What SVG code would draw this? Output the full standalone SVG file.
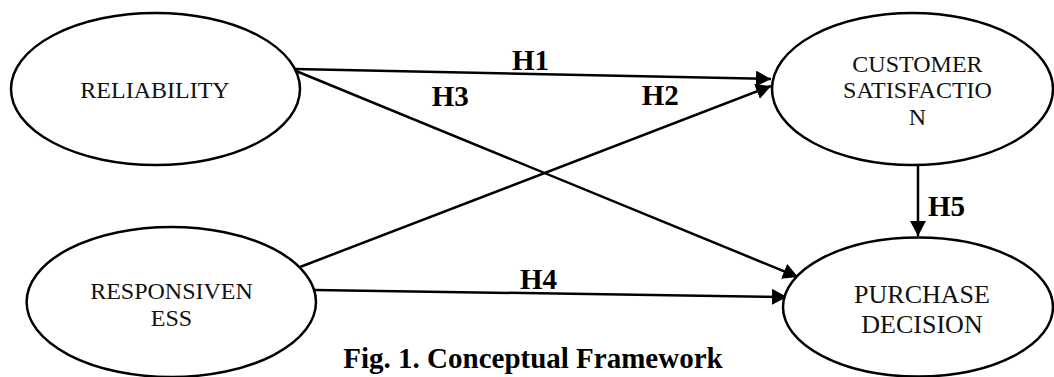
<svg xmlns="http://www.w3.org/2000/svg" width="1054" height="377" viewBox="0 0 1054 377">
<style>
.node{fill:#fff;stroke:#000;stroke-width:2.5}
.nt{font-family:"Liberation Serif","Times New Roman",serif;font-size:24px;fill:#111;text-anchor:middle}
.lbl{font-family:"Liberation Serif","Times New Roman",serif;font-size:29px;font-weight:bold;fill:#000}
.edge{stroke:#000;stroke-width:2.5;fill:none;marker-end:url(#ah)}
</style>
<defs>
<marker id="ah" markerUnits="userSpaceOnUse" markerWidth="16" markerHeight="16" refX="15" refY="8" orient="auto" viewBox="0 0 16 16">
<path d="M0,0 L15,8 L0,16 z" fill="#000"/>
</marker>
</defs>
<rect width="1054" height="377" fill="#fff"/>
<g id="connectors">
<line class="edge" x1="295" y1="69" x2="771" y2="79"/>
<line class="edge" x1="296" y1="71" x2="798" y2="277"/>
<line class="edge" x1="300" y1="267" x2="771" y2="86"/>
<line class="edge" x1="315" y1="290" x2="787" y2="297"/>
<line class="edge" x1="918" y1="165" x2="918" y2="236"/>
</g>
<g id="reliability">
<ellipse class="node" cx="155.5" cy="89" rx="144.5" ry="76"/>
<text class="nt" x="155" y="98">RELIABILITY</text>
</g>
<g id="customer-satisfaction">
<ellipse class="node" cx="912.5" cy="89" rx="140.5" ry="76"/>
<text class="nt" x="917.5" y="71.7">CUSTOMER</text>
<text class="nt" x="917.5" y="98.3">SATISFACTIO</text>
<text class="nt" x="917.5" y="125">N</text>
</g>
<g id="responsiveness">
<ellipse class="node" cx="171.3" cy="302" rx="144.7" ry="75"/>
<text class="nt" x="171.5" y="299">RESPONSIVEN</text>
<text class="nt" x="171.5" y="326">ESS</text>
</g>
<g id="purchase-decision">
<ellipse class="node" cx="918" cy="307" rx="135" ry="69.5"/>
<text class="nt" x="922" y="302.7" style="font-size:26px">PURCHASE</text>
<text class="nt" x="922" y="333.3" style="font-size:26px">DECISION</text>
</g>
<g id="labels">
<text class="lbl" x="512" y="70">H1</text>
<text class="lbl" x="431.7" y="105.5">H3</text>
<text class="lbl" x="641.7" y="105">H2</text>
<text class="lbl" x="928" y="216">H5</text>
<text class="lbl" x="520" y="289">H4</text>
</g>
<g id="caption">
<text class="lbl" x="343.3" y="368">Fig. 1. Conceptual Framework</text>
</g>
</svg>
